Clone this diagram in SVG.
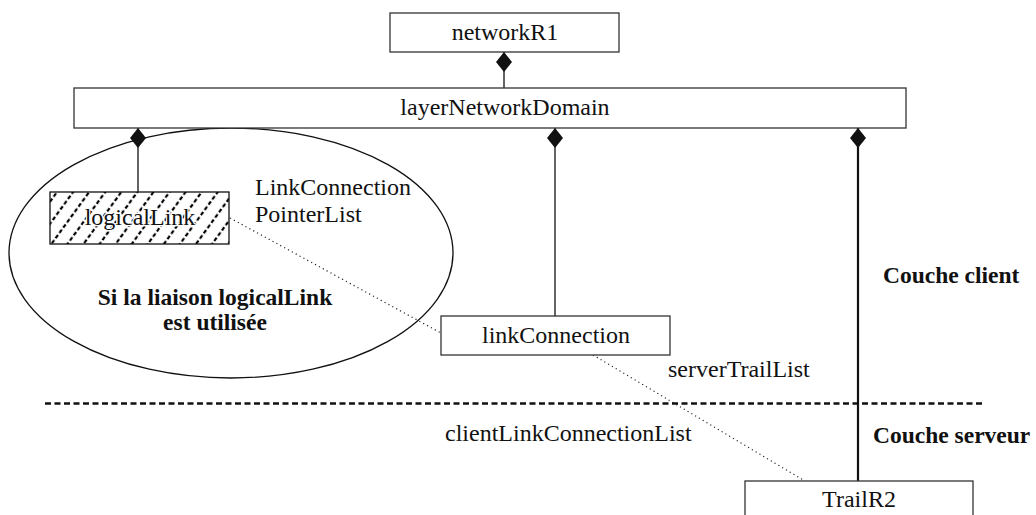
<svg xmlns="http://www.w3.org/2000/svg" width="1036" height="515" viewBox="0 0 1036 515">
<style>
.box{fill:#fff;stroke:#333;stroke-width:1.3}
.t{font-family:"Liberation Serif","Times New Roman",serif;font-size:24px;fill:#111}
.b{font-family:"Liberation Serif","Times New Roman",serif;font-size:23.5px;font-weight:bold;fill:#111}
.ln{stroke:#222;stroke-width:1.4;fill:none}
.dot{stroke:#222;stroke-width:1.2;stroke-dasharray:1.2,3.2;fill:none}
</style>
<defs>
<pattern id="hatch" width="13" height="13" patternUnits="userSpaceOnUse" patternTransform="rotate(36)">
<line x1="3" y1="0" x2="3" y2="13" stroke="#000" stroke-width="2.2" stroke-dasharray="4,2.5"/>
</pattern>
<marker id="dia" viewBox="0 0 20 16" refX="0" refY="8" markerWidth="20" markerHeight="17" markerUnits="userSpaceOnUse" orient="auto">
<path d="M0,8 L10,0 L20,8 L10,16 Z" fill="#111"/>
</marker>
</defs>
<rect width="1036" height="515" fill="#fff"/>
<g id="ellipse">
<ellipse cx="231" cy="253" rx="222" ry="125" fill="none" stroke="#111" stroke-width="1.3"/>
<text class="b" x="215" y="305" text-anchor="middle">Si la liaison logicalLink</text>
<text class="b" x="215" y="330" text-anchor="middle">est utilisée</text>
</g>
<g id="connectors">
<line class="ln" x1="504" y1="52" x2="504" y2="88" marker-start="url(#dia)"/>
<line class="ln" x1="138" y1="128" x2="138" y2="192" marker-start="url(#dia)"/>
<line class="ln" x1="555" y1="128" x2="555" y2="316" marker-start="url(#dia)"/>
<line x1="858" y1="128" x2="858" y2="481" stroke="#111" stroke-width="2.2" marker-start="url(#dia)"/>
<line class="dot" x1="230" y1="218" x2="441" y2="333"/>
<line class="dot" x1="593" y1="355" x2="805" y2="481"/>
<line x1="45" y1="403.5" x2="982" y2="403.5" stroke="#111" stroke-width="2.6" stroke-dasharray="6,3.5"/>
</g>
<g id="networkR1">
<rect class="box" x="390" y="13" width="229" height="39"/>
<text class="t" x="505" y="40" text-anchor="middle">networkR1</text>
</g>
<g id="layerNetworkDomain">
<rect class="box" x="74" y="88" width="832" height="40"/>
<text class="t" x="505" y="115" text-anchor="middle">layerNetworkDomain</text>
</g>
<g id="logicalLink">
<rect x="50" y="192" width="179" height="52" fill="url(#hatch)" stroke="#111" stroke-width="1.3"/>
<text class="t" x="140" y="225" text-anchor="middle" stroke="#fff" stroke-width="2.5" paint-order="stroke">logicalLink</text>
</g>
<g id="linkConnection">
<rect class="box" x="441" y="316" width="229" height="39"/>
<text class="t" x="556" y="343" text-anchor="middle">linkConnection</text>
</g>
<g id="TrailR2">
<rect class="box" x="745" y="481" width="228" height="45"/>
<text class="t" x="859" y="507" text-anchor="middle">TrailR2</text>
</g>
<g id="labels">
<text class="t" x="255" y="195">LinkConnection</text>
<text class="t" x="255" y="222">PointerList</text>
<text class="t" x="668" y="377">serverTrailList</text>
<text class="t" x="445" y="441">clientLinkConnectionList</text>
<text class="b" x="883" y="283">Couche client</text>
<text class="b" x="873" y="443">Couche serveur</text>
</g>
</svg>
